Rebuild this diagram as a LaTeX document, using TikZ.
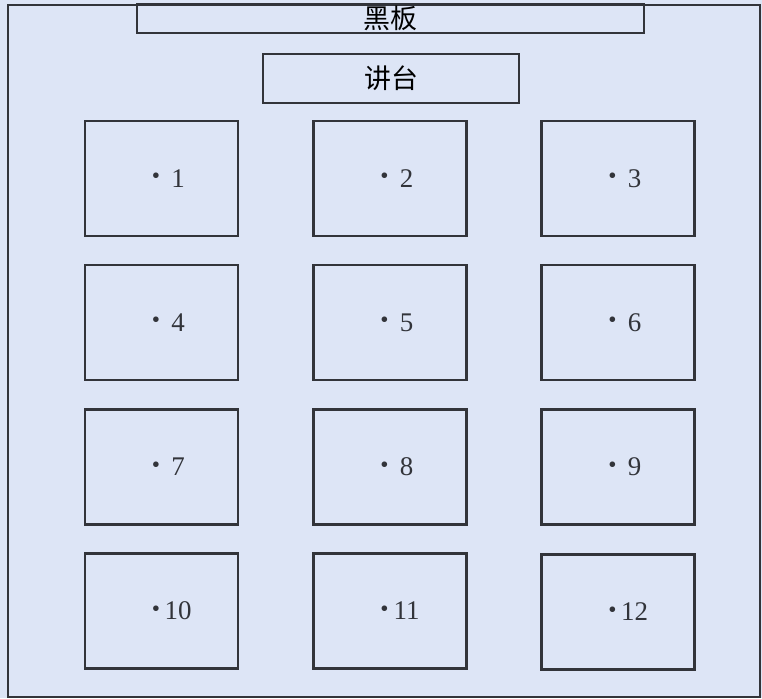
\documentclass[tikz,border=0pt]{standalone}
\usepackage{fontspec}
\setmainfont{Liberation Serif}
\newfontfamily\cjk{Noto Sans CJK SC}
\usetikzlibrary{positioning}

\definecolor{roombg}{RGB}{221,229,246}
\definecolor{penline}{RGB}{50,52,58}

\begin{document}
\begin{tikzpicture}[
        x=0.03cm, y=-0.03cm,
        board/.style={draw=penline, line width=2.2pt, inner sep=0pt, minimum width=15.21cm, minimum height=0.87cm, font=\cjk\fontsize{23}{23}\selectfont},
        lectern/.style={draw=penline, line width=2.2pt, inner sep=0pt, minimum width=7.68cm, minimum height=1.47cm, font=\cjk\fontsize{23}{23}\selectfont},
        seatdot/.style={font=\fontsize{20}{20}\selectfont, text=penline, inner sep=0pt, xshift=-0.165cm},
        seatno/.style={font=\fontsize{23}{23}\selectfont, text=penline, inner sep=0pt, xshift=0.5cm},
        desk/.style={draw=penline, line width=2.2pt, inner sep=0pt, minimum width=4.59cm, minimum height=3.45cm,
            label={[seatdot]center:\textbullet}, label={[seatno]center:#1}}
    ]
        % room
        \fill[roombg] (0,0) rectangle (762,698);
        \useasboundingbox (0,0) rectangle (762,698);
        \draw[penline, line width=2.2pt] (8,5) rectangle (760,697);

        \node[board] (blackboard) at (390.5,18.5) {黑板};
        \node[lectern] (podium) at (391,78.5) {讲台};

        % desks
        \node[desk=1] (d1) at (161.5,178.5) {};
        \node[desk=2] (d2) at (390,178.5) {};
        \node[desk=3] (d3) at (618,178.5) {};

        \node[desk=4] (d4) at (161.5,322.5) {};
        \node[desk=5] (d5) at (390,322.5) {};
        \node[desk=6] (d6) at (618,322.5) {};

        \node[desk=7] (d7) at (161.5,467) {};
        \node[desk=8] (d8) at (390,467) {};
        \node[desk=9] (d9) at (618,467) {};

        \node[desk=10] (d10) at (161.5,611) {};
        \node[desk=11] (d11) at (390,611) {};
        \node[desk=12] (d12) at (618,612) {};
    \end{tikzpicture}
\end{document}
